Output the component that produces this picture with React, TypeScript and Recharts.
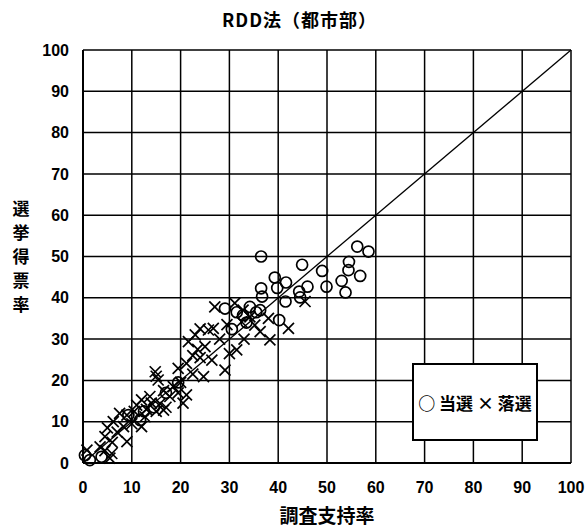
import { ScatterChart, Scatter, XAxis, YAxis, CartesianGrid, ReferenceLine } from 'recharts';

const ticks = [0, 10, 20, 30, 40, 50, 60, 70, 80, 90, 100];

// 当選 (circles)
const winX = [36.5, 44.9, 56.2, 58.5, 54.5, 54.4, 49, 56.8, 53, 49.9, 53.8, 39.3, 41.6, 39.8, 36.5, 36.7, 41.5, 44.3, 46, 44.5, 36.3, 34.2, 29.1, 40.2, 30.5, 32.8, 35.5, 9.3, 11.7, 0.4, 1.4, 3.8, 14.5, 17, 19.5, 12.5, 31.5, 33.5];
const winY = [50, 48, 52.4, 51.2, 48.7, 46.7, 46.5, 45.3, 44.1, 42.7, 41.3, 44.9, 43.7, 42.4, 42.3, 40.3, 39.1, 41.5, 42.7, 40.1, 37, 37.8, 37.4, 34.6, 32.4, 35.8, 36.5, 11.6, 10.4, 1.9, 0.7, 1.5, 13.5, 17, 19.5, 12.5, 36.5, 34];

// 落選 (crosses)
const loseX = [27, 31.1, 32.8, 34.2, 35.2, 32.5, 42.1, 38.3, 36.3, 45.5, 31.5, 26.7, 25.7, 21.6, 25, 26.4, 29.1, 14.8, 19.5, 21.2, 24.7, 21.2, 15.4, 12, 13.7, 15.8, 17.8, 16.5, 12.7, 9, 6.2, 8.3, 12, 9, 4.5, 3.5, 5.9, 0.8, 5.5, 22.5, 23.5, 24, 20, 22.5, 18.5, 19.5, 14, 15, 13, 10.5, 10, 7, 6, 4.5, 23, 28, 29.5, 16.5, 17, 15, 11, 33, 30, 38, 24, 20.5, 7.5, 5];
const loseY = [37.8, 38.7, 37, 35.4, 33.4, 34.2, 32.6, 29.8, 31.8, 39.1, 27.4, 32.6, 32.2, 29.4, 28.2, 24.9, 22.5, 22.1, 22.9, 24.1, 20.9, 16.5, 20.1, 15.3, 16.1, 14.4, 16.1, 12.8, 11.2, 11.6, 10, 8.8, 8.8, 5.2, 6.4, 3.9, 2.3, 3.1, 1.2, 26, 27.5, 25.5, 19.5, 21.5, 18.5, 17, 14.5, 12.5, 13, 12.5, 9.5, 7.5, 5, 3, 31, 30, 33.5, 17.5, 13.5, 21, 14, 30, 26.5, 35, 32.5, 14.5, 12, 8.5];

const winners = winX.map((x, i) => ({ x, y: winY[i] }));
const losers = loseX.map((x, i) => ({ x, y: loseY[i] }));

const Ring = (p: any) => (
  <circle cx={p.cx} cy={p.cy} r={5.5} fill="none" stroke="#000" strokeWidth={1.7} />
);

const Cross = (p: any) => {
  const s = 5.5;
  return (
    <g stroke="#000" strokeWidth={1.7}>
      <line x1={p.cx - s} y1={p.cy - s} x2={p.cx + s} y2={p.cy + s} />
      <line x1={p.cx - s} y1={p.cy + s} x2={p.cx + s} y2={p.cy - s} />
    </g>
  );
};

const numFont = "'Liberation Sans', Arial, sans-serif";
const jpFont = "'Noto Sans CJK JP', 'Noto Sans', sans-serif";
const tickStyle = { fontSize: 16, fontWeight: 700, fill: '#000', fontFamily: numFont };

export default function App() {
  return (
    <div style={{ position: 'absolute', left: 0, top: 0, width: 587, height: 529, background: '#fff' }}>
      <ScatterChart width={587} height={529} margin={{ top: 50, right: 16, bottom: 0, left: 0 }}>
        <CartesianGrid stroke="#000" strokeWidth={1.5} horizontalValues={ticks} verticalValues={ticks} />
        <XAxis
          type="number" dataKey="x" domain={[0, 100]} ticks={ticks} height={66}
          tickLine={false} tickSize={8} tickMargin={11} interval={0}
          axisLine={{ stroke: '#000', strokeWidth: 2 }} tick={tickStyle}
        />
        <YAxis
          type="number" dataKey="y" domain={[0, 100]} ticks={ticks} width={83}
          tickLine={false} tickSize={8} tickMargin={6} interval={0}
          axisLine={{ stroke: '#000', strokeWidth: 2 }} tick={tickStyle}
        />
        <ReferenceLine segment={[{ x: 0, y: 0 }, { x: 100, y: 100 }]} stroke="#000" strokeWidth={1.3} />
        <Scatter data={losers} shape={Cross} isAnimationActive={false} />
        <Scatter data={winners} shape={Ring} isAnimationActive={false} />
      </ScatterChart>

      <div style={{ position: 'absolute', left: 0, width: 587, top: 6, textAlign: 'center', paddingLeft: 12, boxSizing: 'border-box', fontFamily: jpFont, fontWeight: 700, fontSize: 18, letterSpacing: 1 }}>
        RDD法（都市部）
      </div>

      <div style={{ position: 'absolute', left: 11, top: 196, width: 20, fontFamily: jpFont, fontWeight: 700, fontSize: 17, textAlign: 'center' }}>
        {'選挙得票率'.split('').map((c) => (
          <div key={c} style={{ height: 24, lineHeight: '24px' }}>{c}</div>
        ))}
      </div>

      <div style={{ position: 'absolute', left: 83, width: 488, top: 501, textAlign: 'center', fontFamily: jpFont, fontWeight: 700, fontSize: 19 }}>
        調査支持率
      </div>

      <div style={{ position: 'absolute', left: 412, top: 363, width: 126, height: 78, boxSizing: 'border-box', border: '2px solid #000', background: '#fff', display: 'flex', alignItems: 'center', justifyContent: 'center', fontFamily: jpFont, fontWeight: 700, fontSize: 17, whiteSpace: 'nowrap' }}>
        ○ 当選 × 落選
      </div>
    </div>
  );
}
